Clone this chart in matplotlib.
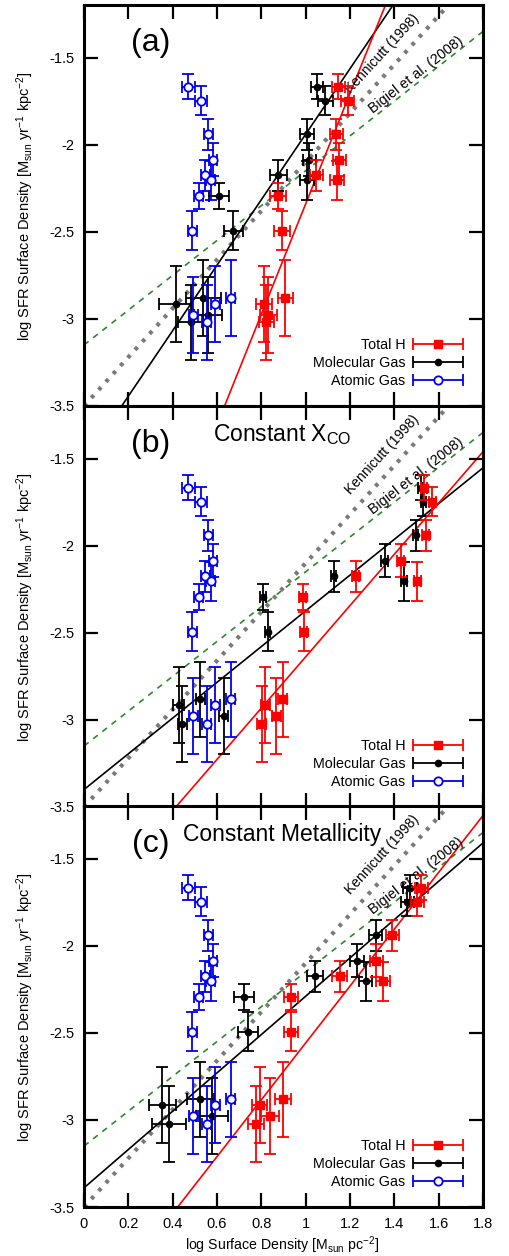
import matplotlib
matplotlib.use('Agg')
import matplotlib.pyplot as plt
import numpy as np
from matplotlib.legend_handler import HandlerErrorbar

plt.rcParams['font.family'] = ['Liberation Sans', 'DejaVu Sans']
plt.rcParams['mathtext.default'] = 'regular'
plt.rcParams['axes.unicode_minus'] = False

# star formation rate surface density per region (same in all panels)
sfr = [-1.668, -1.747, -1.940, -2.086, -2.176, -2.205, -2.293, -2.494, -2.881, -2.914, -2.977, -3.021]
sfr_err = [0.072, 0.082, 0.088, 0.096, 0.090, 0.110, 0.075, 0.112, 0.216, 0.218, 0.218, 0.218]

# atomic gas (same in all panels)
hi = [0.470, 0.529, 0.560, 0.582, 0.547, 0.571, 0.517, 0.489, 0.661, 0.592, 0.493, 0.553]
hi_err = [0.03, 0.028, 0.02, 0.02, 0.02, 0.02, 0.02, 0.02, 0.02, 0.02, 0.02, 0.02]

# (a)
h2_a = [1.051, 1.088, 1.006, 1.016, 0.877, 1.006, 0.610, 0.673, 0.538, 0.413, 0.559, 0.481]
h2_a_err = [0.028, 0.034, 0.03, 0.03, 0.04, 0.03, 0.045, 0.043, 0.08, 0.075, 0.064, 0.055]
tot_a = [1.147, 1.189, 1.138, 1.151, 1.048, 1.141, 0.874, 0.894, 0.907, 0.811, 0.832, 0.823]
tot_a_err = [0.03, 0.03, 0.03, 0.03, 0.03, 0.03, 0.035, 0.035, 0.034, 0.037, 0.037, 0.035]

# (b) constant X_CO
h2_b = [1.518, 1.530, 1.496, 1.356, 1.126, 1.443, 0.807, 0.829, 0.525, 0.428, 0.630, 0.443]
h2_b_err = [0.012, 0.012, 0.012, 0.015, 0.012, 0.012, 0.015, 0.012, 0.02, 0.025, 0.02, 0.02]
tot_b = [1.533, 1.571, 1.541, 1.428, 1.226, 1.503, 0.987, 0.991, 0.897, 0.817, 0.867, 0.802]
tot_b_err = [0.015, 0.015, 0.015, 0.015, 0.015, 0.015, 0.015, 0.015, 0.02, 0.02, 0.02, 0.02]

# (c) constant metallicity
h2_c = [1.470, 1.458, 1.316, 1.231, 1.043, 1.271, 0.720, 0.739, 0.525, 0.353, 0.577, 0.384]
h2_c_err = [0.03, 0.03, 0.03, 0.03, 0.037, 0.03, 0.045, 0.045, 0.06, 0.06, 0.071, 0.075]
tot_c = [1.521, 1.503, 1.391, 1.319, 1.154, 1.349, 0.934, 0.934, 0.897, 0.792, 0.840, 0.777]
tot_c_err = [0.03, 0.03, 0.03, 0.03, 0.034, 0.03, 0.03, 0.03, 0.035, 0.034, 0.04, 0.035]

# fits (slope, intercept)
fit_h2 = [(1.88, -3.82), (1.026, -3.40), (1.10, -3.39)]
fit_tot = [(3.17, -5.51), (1.472, -4.11), (1.632, -4.19)]
kennicutt = (1.4, -3.5)
bigiel = (1.0, -3.15)

panels = [
    ('(a)', '', h2_a, h2_a_err, tot_a, tot_a_err),
    ('(b)', 'Constant X$_{CO}$', h2_b, h2_b_err, tot_b, tot_b_err),
    ('(c)', 'Constant Metallicity', h2_c, h2_c_err, tot_c, tot_c_err),
]

fig = plt.figure(figsize=(5.1, 12.56), dpi=100)
bottoms = [0.6768, 0.3575, 0.039]
xx = np.array([0.0, 1.8])
axes = []

for i, (tag, title, h2, h2e, tot, tote) in enumerate(panels):
    ax = fig.add_axes([0.1647, bottoms[i], 0.7824, 0.319])
    axes.append(ax)

    ax.plot(xx, kennicutt[0] * xx + kennicutt[1], color='#7a7a7a', lw=3.0,
            linestyle=(0, (0.9, 1.7)), zorder=1)
    ax.plot(xx, bigiel[0] * xx + bigiel[1], color='#2a8a2a', lw=1.2,
            linestyle=(0, (3.5, 3.5)), zorder=1)
    ax.plot(xx, fit_h2[i][0] * xx + fit_h2[i][1], color='k', lw=1.2, zorder=1)
    ax.plot(xx, fit_tot[i][0] * xx + fit_tot[i][1], color='red', lw=1.2, zorder=1)

    eb = dict(capsize=4.5, elinewidth=1.3, capthick=1.3, linestyle='none')
    ax.errorbar(h2, sfr, xerr=h2e, yerr=sfr_err, fmt='o', color='k', ms=4.5, zorder=3, **eb)
    ax.errorbar(hi, sfr, xerr=hi_err, yerr=sfr_err, fmt='o', color='#0000ee', mfc='white',
                ms=6, mew=1.3, zorder=4, **eb)
    ax.errorbar(tot, sfr, xerr=tote, yerr=sfr_err, fmt='s', color='red', ms=6.3, zorder=5, **eb)

    ax.text(1.345, -1.475, 'Kennicutt (1998)', rotation=47.5, rotation_mode='anchor',
            ha='center', va='center', fontsize=10)
    ax.text(1.50, -1.60, 'Bigiel et al. (2008)', rotation=38, rotation_mode='anchor',
            ha='center', va='center', fontsize=10.3)
    ax.text(0.30, -1.415, tag, ha='center', va='center', fontsize=23)
    if title:
        ax.text(0.895, -1.36, title, ha='center', va='center', fontsize=16.5)

    ax.set_xlim(0, 1.8)
    ax.set_ylim(-3.5, -1.2)
    ax.set_xticks(np.arange(0, 1.81, 0.2))
    ax.set_yticks([-3.5, -3, -2.5, -2, -1.5])
    ax.set_yticklabels(['-3.5', '-3', '-2.5', '-2', '-1.5'])
    ax.tick_params(direction='in', length=10, width=1.6, top=True, right=True,
                   labelsize=10.5, pad=7)
    for s in ax.spines.values():
        s.set_linewidth(2.2)
    ax.set_ylabel('log SFR Surface Density [M$_{sun}$ yr$^{-1}$ kpc$^{-2}$]', fontsize=10.5)
    ax.yaxis.set_label_coords(-0.12, 0.5)

    # legend proxies
    p_tot = ax.errorbar([np.nan], [np.nan], xerr=[0.1], fmt='s', color='red', ms=6.3, **eb)
    p_h2 = ax.errorbar([np.nan], [np.nan], xerr=[0.1], fmt='o', color='k', ms=4.5, **eb)
    p_hi = ax.errorbar([np.nan], [np.nan], xerr=[0.1], fmt='o', color='#0000ee', mfc='white',
                       ms=6, mew=1.3, **eb)
    ax.legend([p_tot, p_h2, p_hi], ['Total H', 'Molecular Gas', 'Atomic Gas'],
              loc='lower right', bbox_to_anchor=(0.965, 0.03), frameon=False,
              markerfirst=False, fontsize=10.3, handlelength=3.5, handletextpad=0.55,
              labelspacing=0.3, borderaxespad=0,
              handler_map={type(p_tot): HandlerErrorbar(xerr_size=1.75)})

    if i < 2:
        ax.tick_params(labelbottom=False)
    ax.set_xlim(0, 1.8)
    ax.set_ylim(-3.5, -1.2)

axes[2].set_xlabel('log Surface Density [M$_{sun}$ pc$^{-2}$]', fontsize=10.2)
axes[2].xaxis.set_label_coords(0.496, -0.068)
axes[2].set_xticklabels(['0', '0.2', '0.4', '0.6', '0.8', '1', '1.2', '1.4', '1.6', '1.8'])

fig.savefig('out.png', dpi=100)
